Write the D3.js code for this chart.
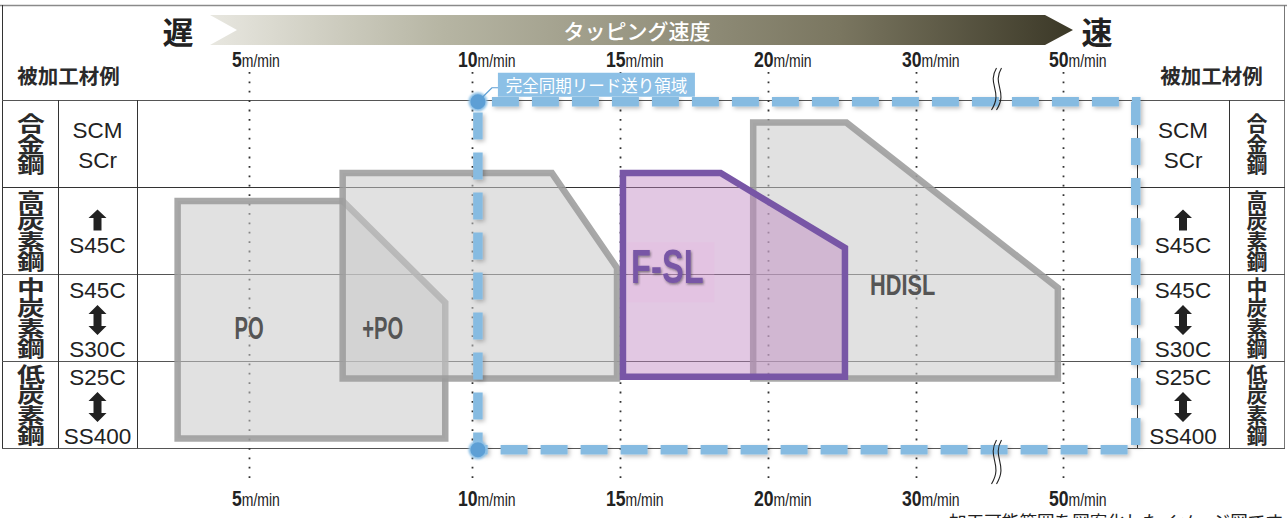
<!DOCTYPE html>
<html><head><meta charset="utf-8">
<script src="https://cdn.jsdelivr.net/npm/d3@7/dist/d3.min.js"></script>
<style>body{margin:0;background:#fff}svg{display:block}</style>
</head><body>
<svg id="chart" width="1287" height="518"></svg>
<script>
// ---------- data ----------
const speeds = [5, 10, 15, 20, 30, 50];
const speedUnit = "m/min";
const axisTitle = "タッピング速度";
const slowLabel = "遅";
const fastLabel = "速";
const materialHeader = "被加工材例";
const materialGroups = ["合金鋼", "高炭素鋼", "中炭素鋼", "低炭素鋼"];
const materialGrades = [["SCM", "SCr"], ["↑", "S45C"], ["S45C", "↕", "S30C"], ["S25C", "↕", "SS400"]];
const tools = ["PO", "+PO", "HDISL", "F-SL"];
// vertices as [speed (m/min), material row position (0 = top of 合金鋼, 4 = bottom of 低炭素鋼)]
const toolShapes = [
  [[3.4, 1.16], [7.1, 1.16], [9.4, 2.33], [9.4, 3.89], [3.4, 3.89]],
  [[7.1, 0.84], [12.7, 0.84], [14.9, 1.93], [14.9, 3.2], [7.1, 3.2]],
  [[19.5, 0.26], [25.3, 0.26], [49.3, 2.16], [49.3, 3.2], [19.5, 3.2]],
  [[15.1, 0.84], [18.4, 0.84], [25.2, 1.70], [25.2, 3.18], [15.1, 3.18]]
];
const toolLabelAt = [[5.0, 2.62], [8.0, 2.62], [29.1, 2.12], [16.6, 1.91]];
const syncName = "完全同期リード送り領域";
const syncSpeedRange = [10.2, 59.9];
const syncRowRange = [0.02, 4.02];
const breakAt = 40;
const note = "加工可能範囲を図案化したイメージ図です";

// ---------- layout ----------
const svg = d3.select("#chart");
const W = 1287;
const x = d3.scaleLinear().domain(speeds).range([249, 472, 620, 768, 916, 1063]);
const y = d3.scaleLinear().domain([0, materialGroups.length]).range([100, 448]);
const cjk = "'Noto Sans CJK JP','Noto Sans CJK SC',sans-serif";
const latin = "'Liberation Sans',Arial,Helvetica,sans-serif";

const defs = svg.append("defs");
const grad = defs.append("linearGradient").attr("id", "hdr")
  .attr("gradientUnits", "userSpaceOnUse").attr("x1", 210).attr("x2", 1073).attr("y1", 0).attr("y2", 0);
[[0, "#e8e7e0"], [0.27, "#b6b5a3"], [0.73, "#7a7660"], [1, "#3b3827"]].forEach(s =>
  grad.append("stop").attr("offset", s[0]).attr("stop-color", s[1]));
const sh = defs.append("filter").attr("id", "shadow").attr("x", "-10%").attr("y", "-10%").attr("width", "120%").attr("height", "120%");
sh.append("feDropShadow").attr("dx", 2).attr("dy", 2).attr("stdDeviation", 2).attr("flood-color", "#000").attr("flood-opacity", 0.25);
const ts = defs.append("filter").attr("id", "tshadow").attr("x", "-20%").attr("y", "-20%").attr("width", "140%").attr("height", "140%");
ts.append("feDropShadow").attr("dx", 1.5).attr("dy", 1.5).attr("stdDeviation", 1.2).attr("flood-color", "#333").attr("flood-opacity", 0.55);
const glow = defs.append("filter").attr("id", "glow").attr("x", "-50%").attr("y", "-50%").attr("width", "200%").attr("height", "200%");
glow.append("feGaussianBlur").attr("stdDeviation", 1.2);

// ---------- frame & grid ----------
const frame = svg.append("g").attr("stroke-width", 1).attr("fill", "none");
frame.append("line").attr("x1", 0).attr("x2", W).attr("y1", 5.5).attr("y2", 5.5).attr("stroke", "#8a8a8a").attr("stroke-width", 1.5);
frame.append("line").attr("x1", 2.5).attr("x2", 2.5).attr("y1", 5).attr("y2", y(4)).attr("stroke", "#333");
frame.append("line").attr("x1", 1284.5).attr("x2", 1284.5).attr("y1", 5).attr("y2", y(4)).attr("stroke", "#777");
d3.range(materialGroups.length + 1).forEach(i => {
  frame.append("line").attr("x1", 2).attr("x2", 1285).attr("y1", Math.round(y(i)) + 0.5).attr("y2", Math.round(y(i)) + 0.5)
    .attr("stroke", i === 1 ? "#333" : "#555");
});
[58, 137, 1137, 1229].forEach(cx =>
  frame.append("line").attr("x1", cx + 0.5).attr("x2", cx + 0.5).attr("y1", y(0)).attr("y2", y(4)).attr("stroke", "#333"));

// dotted speed lines
svg.append("g").selectAll("line").data(speeds).join("line")
  .attr("x1", d => Math.round(x(d)) + 0.5).attr("x2", d => Math.round(x(d)) + 0.5)
  .attr("y1", 72).attr("y2", 484)
  .attr("stroke", "#333").attr("stroke-width", 1.8).attr("stroke-dasharray", "1.8,7.6");

// ---------- header ----------
svg.append("path")
  .attr("d", "M210,15 L1045,15 L1073,30 L1045,45 L210,45 L237,30 Z")
  .attr("fill", "url(#hdr)");
svg.append("text").attr("x", 637).attr("y", 30).attr("text-anchor", "middle").attr("dominant-baseline", "central")
  .attr("font-family", cjk).attr("font-weight", 500).attr("font-size", 21).attr("fill", "#fff").text(axisTitle);
svg.append("text").attr("x", 178).attr("y", 30).attr("text-anchor", "middle").attr("dominant-baseline", "central")
  .attr("font-family", cjk).attr("font-weight", 700).attr("font-size", 31).attr("fill", "#222").text(slowLabel);
svg.append("text").attr("x", 1097).attr("y", 30).attr("text-anchor", "middle").attr("dominant-baseline", "central")
  .attr("font-family", cjk).attr("font-weight", 700).attr("font-size", 31).attr("fill", "#222").text(fastLabel);
[68.5, 1211.5].forEach(cx =>
  svg.append("text").attr("x", cx).attr("y", 75).attr("text-anchor", "middle").attr("dominant-baseline", "central")
    .attr("font-family", cjk).attr("font-weight", 700).attr("font-size", 20.5).attr("fill", "#2a2a2a").text(materialHeader));

// speed labels top and bottom
[67, 506].forEach(by => {
  const t = svg.append("g").selectAll("text").data(speeds).join("text")
    .attr("transform", d => `translate(${x(d) - (d < 10 ? 17 : 14)},${by}) scale(0.8,1)`)
    .attr("font-family", latin).attr("fill", "#222");
  t.append("tspan").attr("font-size", 22).attr("font-weight", 700).text(d => d);
  t.append("tspan").attr("font-size", 17.5).text(speedUnit);
});

// ---------- material table ----------
function arrowPath(kind) {
  if (kind === "↑") return "M0,-10.5 L9,-2 L4,-2 L4,10.5 L-4,10.5 L-4,-2 L-9,-2 Z";
  return "M0,-15 L9,-6 L4,-6 L4,6 L9,6 L0,15 L-9,6 L-4,6 L-4,-6 L-9,-6 Z";
}
function drawTable(groupX, gradeX, stretch) {
  materialGroups.forEach((g, i) => {
    const cy = (y(i) + y(i + 1)) / 2;
    svg.append("text").attr("transform", `translate(${groupX},${cy}) scale(${stretch},1)`)
      .attr("writing-mode", "vertical-rl").style("writing-mode", "vertical-rl")
      .attr("text-anchor", "middle").attr("dominant-baseline", "central")
      .attr("letter-spacing", -0.5)
      .attr("font-family", cjk).attr("font-weight", 700).attr("font-size", 21).attr("fill", "#2a2a2a").text(g);
    const items = materialGrades[i];
    const offs = items.length === 2 ? (items[0] === "↑" ? [-10.5, 14] : [-14, 16]) : [-28, 2.5, 31];
    items.forEach((it, k) => {
      const yy = cy + offs[k];
      if (it === "↑" || it === "↕") {
        svg.append("path").attr("transform", `translate(${gradeX},${yy})`).attr("d", arrowPath(it)).attr("fill", "#222");
      } else {
        svg.append("text").attr("x", gradeX).attr("y", yy + 8).attr("text-anchor", "middle")
          .attr("font-family", latin).attr("font-size", 22.5).attr("fill", "#222").text(it);
      }
    });
  });
}
drawTable(31, 97.5, 1.33);
drawTable(1257, 1183, 1.0);

// ---------- tool regions ----------
const line = d3.line().x(d => x(d[0])).y(d => y(d[1]));
const toolStyle = {
  "PO": {fill: "#c8c8c8", fo: 0.55, stroke: "#9c9c9c", so: 0.88, size: 32, sx: 0.63, color: "#555"},
  "+PO": {fill: "#c8c8c8", fo: 0.55, stroke: "#9c9c9c", so: 0.88, size: 32, sx: 0.63, color: "#555"},
  "HDISL": {fill: "#c8c8c8", fo: 0.55, stroke: "#9c9c9c", so: 0.88, size: 29, sx: 0.75, color: "#555"},
  "F-SL": {fill: "#bf86c0", fo: 0.45, stroke: "#7856a6", so: 1, size: 48, sx: 0.68, color: "#7856a6"}
};
const gTools = svg.append("g");
tools.forEach((t, i) => {
  const s = toolStyle[t];
  gTools.append("path").attr("d", line(toolShapes[i]) + "Z")
    .attr("fill", s.fill).attr("fill-opacity", s.fo)
    .attr("stroke", s.stroke).attr("stroke-opacity", s.so).attr("stroke-width", 6.5)
    .attr("stroke-linejoin", "miter");
});
// highlight behind F-SL label
const fi = tools.indexOf("F-SL");
gTools.append("rect").attr("x", x(toolLabelAt[fi][0]) - 40).attr("y", y(toolLabelAt[fi][1]) - 24)
  .attr("width", 87).attr("height", 60).attr("fill", "#eab0e0").attr("fill-opacity", 0.22);
tools.forEach((t, i) => {
  const s = toolStyle[t];
  const lx = x(toolLabelAt[i][0]), ly = y(toolLabelAt[i][1]);
  const txt = gTools.append("text").attr("transform", `translate(${lx},${ly + s.size * 0.36}) scale(${s.sx},1)`)
    .attr("text-anchor", "middle")
    .attr("font-family", latin).attr("font-weight", 700)
    .attr("font-size", s.size).attr("fill", s.color).text(t);
  if (t === "F-SL") txt.attr("filter", "url(#tshadow)");
});

// ---------- synchronized lead feed region ----------
const sx0 = x(syncSpeedRange[0]), sx1 = x(syncSpeedRange[1]);
const sy0 = y(syncRowRange[0]), sy1 = y(syncRowRange[1]);
svg.append("rect").attr("x", sx0).attr("y", sy0).attr("width", sx1 - sx0).attr("height", sy1 - sy0)
  .attr("fill", "none").attr("stroke", "#86bbe1").attr("stroke-width", 9.5)
  .attr("stroke-dasharray", "27,13").attr("stroke-dashoffset", -14)
  .attr("filter", "url(#shadow)");
[sy0, sy1].forEach(cy => {
  svg.append("circle").attr("cx", sx0).attr("cy", cy).attr("r", 9.5).attr("fill", "#8cc0e6").attr("filter", "url(#glow)");
  svg.append("circle").attr("cx", sx0).attr("cy", cy).attr("r", 7.5).attr("fill", "#5d9fd5");
});
svg.append("path").attr("d", `M${sx0 + 3},${sy0 - 3} L${sx0 + 14},${sy0 - 14} L${sx0 + 21},${sy0 - 14}`)
  .attr("fill", "none").attr("stroke", "#5d9fd5").attr("stroke-width", 1.2);
svg.append("rect").attr("x", sx0 + 20).attr("y", sy0 - 29).attr("width", 197).attr("height", 24).attr("fill", "#8cc0e6");
svg.append("text").attr("x", sx0 + 118.5).attr("y", sy0 - 17).attr("text-anchor", "middle").attr("dominant-baseline", "central")
  .attr("font-family", cjk).attr("font-size", 16.5).attr("fill", "#fff").text(syncName);

// axis break marks
const bx = x(breakAt) + 5;
[[68, 110], [440, 484]].forEach(([a, b]) => {
  [0, 5].forEach(o => {
    svg.append("path")
      .attr("d", `M${bx + o + 2},${a} C${bx + o - 8},${a + (b - a) * 0.4} ${bx + o + 9},${a + (b - a) * 0.55} ${bx + o - 3},${b}`)
      .attr("fill", "none").attr("stroke", "#222").attr("stroke-width", 1.1);
  });
});

// note (cut off by the bottom edge, as in the original)
svg.append("text").attr("x", 949).attr("y", 528).attr("font-family", cjk).attr("font-size", 17.6).attr("fill", "#222").text(note);
</script>
</body></html>
